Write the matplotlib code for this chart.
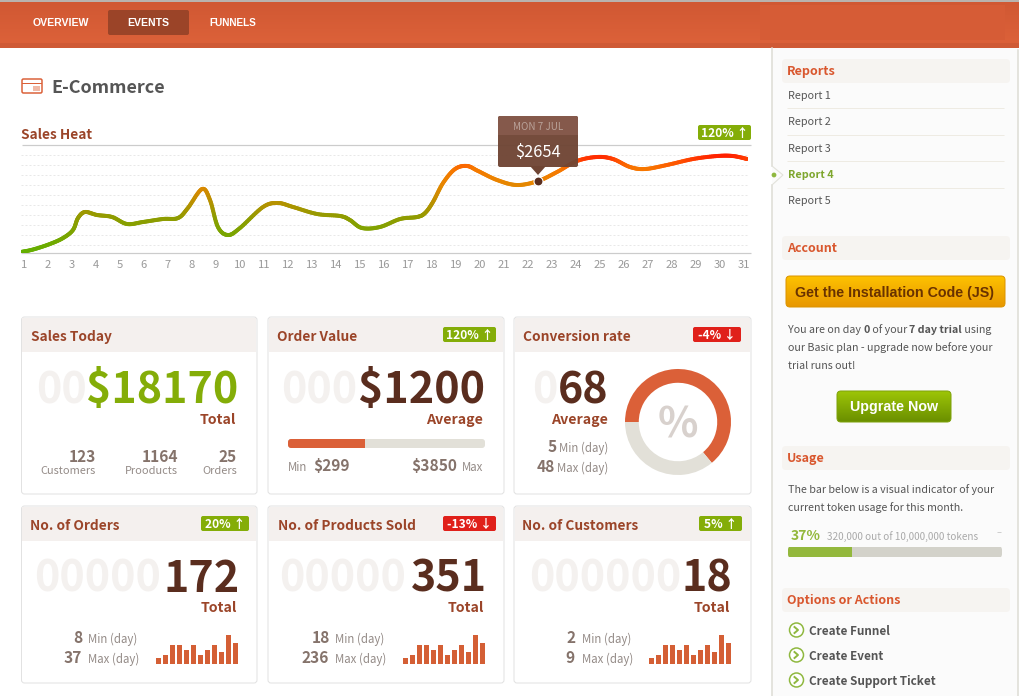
import numpy as np
import matplotlib as mpl
mpl.use('Agg')
import matplotlib.pyplot as plt
from matplotlib.collections import LineCollection
from matplotlib.colors import LinearSegmentedColormap, Normalize
from matplotlib.patches import FancyBboxPatch, Polygon, Circle, Rectangle

W, H = 1019, 696
SANS = ['Noto Sans CJK SC', 'DejaVu Sans']
ARIAL = ['Liberation Sans', 'DejaVu Sans']

# ----chart data-------------------------
heat_days = [0.88, 1.38, 2.08, 2.63, 3.04, 3.25, 3.54, 4.04, 4.67, 5.29, 5.96, 6.79, 7.42, 7.83, 8.42, 8.75,
             9.08, 9.5, 10, 10.96, 11.58, 12.21, 13.21, 14.17, 14.58, 15.08, 15.83, 16.67, 17.38, 17.71, 18.04,
             18.46, 18.96, 19.46, 19.92, 20.71, 21.54, 22.42, 23.21, 24.04, 24.88, 25.54, 26.25, 26.88, 27.79,
             28.88, 29.88, 30.54, 31.13]
heat_sales = [37, 129, 332, 553, 848, 1290, 1511, 1401, 1327, 1069, 1143, 1253, 1290, 1659, 2359, 1954,
              958, 663, 922, 1696, 1843, 1696, 1438, 1364, 1216, 922, 958, 1253, 1327, 1474, 1880,
              2580, 3096, 3207, 3023, 2691, 2506, 2654, 2986, 3391, 3539, 3465, 3170, 3096, 3244,
              3465, 3575, 3575, 3465]
day_ticks = list(range(1, 32))
tip_day, tip_value = 22.42, 2654

mini_bars = [6, 9, 19, 19, 14, 19, 9, 14, 19, 12, 29, 21]
order_bar = [39, 100]       # filled, track
usage_bar = [30, 100]
donut_parts = [64, 36]

report_names = ['Report 1', 'Report 2', 'Report 3', 'Report 4', 'Report 5']
action_names = ['Create Funnel', 'Create Event', 'Create Support Ticket']

# ----colours----------------------------
BROWN = '#9b4529'
DARK = '#5a2d1e'
GHOST = '#f4f1ef'
STAT = '#85736b'
LABEL = '#948b87'
GREEN = '#84ad08'
RED = '#e0201a'
ORANGE = '#db6038'
TRACK = '#e2e0d8'
TEXT = '#555555'

# ----text sizes in px-------------------
BIG = 43
TITLE = 13.7
UNIT = 14.2
STATNUM = 15.5
SMALL = 11.5
BODY = 10.7

fig = plt.figure(figsize=(W / 100, H / 100), dpi=100, facecolor='white')


def pixel_axes(zorder):
    ax = fig.add_axes([0, 0, 1, 1], zorder=zorder)
    ax.set_xlim(0, W)
    ax.set_ylim(H, 0)
    ax.axis('off')
    ax.patch.set_alpha(0)
    return ax


def sub_axes(x0, y0, x1, y1, zorder=1):
    ax = fig.add_axes([x0 / W, 1 - y1 / H, (x1 - x0) / W, (y1 - y0) / H], zorder=zorder)
    ax.patch.set_alpha(0)
    return ax


bg = pixel_axes(0)
fg = pixel_axes(3)


def txt(x, y, s, px, color, ha='left', weight='normal', family=SANS, ax=bg, **kw):
    return ax.text(x, y, s, fontsize=px * 0.72, color=color, ha=ha, va='baseline',
                   fontweight=weight, family=family, **kw)


def rounded(x0, y0, x1, y1, r, fc, ec='none', lw=0, ax=bg, zorder=2):
    p = FancyBboxPatch((x0 + r, y0 + r), x1 - x0 - 2 * r, y1 - y0 - 2 * r,
                       boxstyle='round,pad=%f,rounding_size=%f' % (r, r),
                       fc=fc, ec=ec, lw=lw * 0.72, zorder=zorder)
    ax.add_patch(p)
    return p


def rect(x0, y0, x1, y1, fc, ax=bg, zorder=1):
    ax.add_patch(Rectangle((x0, y0), x1 - x0, y1 - y0, fc=fc, ec='none', zorder=zorder))


def gradient(x0, y0, x1, y1, top, bottom, r=0, ec='none'):
    cm = LinearSegmentedColormap.from_list('g', [top, bottom])
    im = bg.imshow(np.linspace(0, 1, 64).reshape(-1, 1), cmap=cm, aspect='auto',
                   extent=(x0, x1, y1, y0), zorder=2)
    if r:
        p = rounded(x0, y0, x1, y1, r, 'none', ec, 1, zorder=3)
        im.set_clip_path(p)
    bg.set_xlim(0, W)
    bg.set_ylim(H, 0)


def runs(x, y, parts, px, color):
    # text with mixed weights, one piece after the other
    rd = fig.canvas.get_renderer()
    for s, weight in parts:
        t = txt(x, y, s, px, color, weight=weight)
        x = bg.transData.inverted().transform(t.get_window_extent(rd).get_points())[1][0]


def hline(y, x0, x1, color, lw=1, ls='-', zorder=2):
    bg.plot([x0, x1], [y, y], color=color, lw=lw * 0.72, ls=ls, zorder=zorder, solid_capstyle='butt')


def badge(x0, y0, x1, label, up):
    col = GREEN if up else RED
    rounded(x0, y0, x1, y0 + 15, 2, col, zorder=3)
    txt((x0 + x1) / 2, y0 + 12, label + (' ↑' if up else ' ↓'), 12, 'white', ha='center', weight='bold', zorder=4)


def card(x0, y0, x1, y1, title, title_x):
    rounded(x0, y0, x1, y1, 3, 'white', '#e2e2e2', 1)
    head = Rectangle((x0 + 1, y0 + 1), x1 - x0 - 2, 34, fc='#f4f0ee', ec='none', zorder=2)
    bg.add_patch(head)
    txt(title_x, y0 + 24, title, TITLE, BROWN, weight='bold', zorder=4)


# ----page frame-------------------------
gradient(0, 1, W, 43, '#d05833', '#dc6139')
rect(0, 43, W, 48, '#cf5a35', zorder=2)
rect(0, 0, W, 1.5, '#b9b3ae', zorder=3)
rect(760, 5, 1005, 40, '#d65c36', zorder=3)
rounded(108, 10, 189, 35, 2, '#9b4428', zorder=4)
txt(33, 26, 'OVERVIEW', 10.5, 'white', weight='bold', family=ARIAL, zorder=5)
txt(148, 26, 'EVENTS', 10.5, 'white', ha='center', weight='bold', family=ARIAL, zorder=5)
txt(209, 26, 'FUNNELS', 10, 'white', weight='bold', family=ARIAL, zorder=5)

rect(772, 48, 1018, H, '#fbfbfb', zorder=1)
bg.plot([772, 772], [48, 166], color='#dddcd4', lw=1.1, zorder=2)
bg.plot([772, 772], [185, H], color='#dddcd4', lw=1.1, zorder=2)
bg.plot([1018, 1018], [50, H], color='#dddcd4', lw=1.1, zorder=2)

# title
rounded(22, 79, 42, 93, 1.5, 'white', ORANGE, 1.5)
rect(22, 82.5, 42, 84, ORANGE, zorder=3)
rect(33, 86, 40, 90.5, '#f0b9a6', zorder=3)
txt(51, 93, 'E-Commerce', 18, TEXT, weight='bold')

# ----sales heat chart-------------------
txt(21, 139, 'Sales Heat', TITLE, BROWN, weight='bold')
hline(145, 22, 751, '#cccccc', 1.2)
for gy in range(155, 246, 10):
    hline(gy, 21, 749, '#e8e8e8', 1, ls=(0, (2, 2)))
hline(253, 21, 751, '#cccccc', 1.2)
badge(698, 125, 751, '120%', True)

ax = sub_axes(21, 145, 748, 253)
ax.set_xlim(0.875, 31.167)
ax.set_ylim(0, 3981)
for s in ax.spines.values():
    s.set_visible(False)
ax.set_yticks([])
ax.set_xticks(day_ticks)
ax.set_xticklabels(day_ticks, fontsize=11.2 * 0.72, color='#999999', family=SANS)
ax.tick_params(axis='x', length=0, pad=5)

# smooth the line through the read points, colour follows the value
pts = np.column_stack([heat_days, heat_sales]).astype(float)
pad = np.vstack([pts[0], pts, pts[-1]])
smooth = []
for i in range(len(pts) - 1):
    p0, p1, p2, p3 = pad[i], pad[i + 1], pad[i + 2], pad[i + 3]
    for t in np.linspace(0, 1, 12, endpoint=False):
        smooth.append(0.5 * (2 * p1 + (p2 - p0) * t + (2 * p0 - 5 * p1 + 4 * p2 - p3) * t ** 2
                             + (3 * p1 - p0 - 3 * p2 + p3) * t ** 3))
smooth.append(pts[-1])
smooth = np.array(smooth)
segs = np.stack([smooth[:-1], smooth[1:]], axis=1)
heat = LinearSegmentedColormap.from_list('heat', [(0, '#62b000'), (0.36, '#8f9c00'), (0.6, '#cc8c00'),
                                                  (0.72, '#e88600'), (0.86, '#f77800'), (0.94, '#ff5000'),
                                                  (1, '#ff2000')])
lc = LineCollection(segs, cmap=heat, norm=Normalize(0, 3600), linewidths=4 * 0.72, capstyle='round')
lc.set_array((smooth[:-1, 1] + smooth[1:, 1]) / 2)
ax.add_collection(lc)
ax.plot([tip_day], [tip_value], 'o', ms=9 * 0.72, mfc=DARK, mec='white', mew=0.8, zorder=5)

# tooltip over the line
fg.add_patch(Polygon([(530, 166), (546, 166), (538, 175)], fc='#6f4534', ec='none', zorder=1))
rounded(498, 116, 578, 167, 2, '#6f4534', ax=fg, zorder=1).set_alpha(0.96)
rounded(498, 116, 578, 135, 2, '#85594b', ax=fg, zorder=2)
rect(498, 130, 578, 135, '#85594b', ax=fg, zorder=2)
txt(538, 130, 'MON 7 JUL', 9.8, '#b9a299', ha='center', ax=fg, zorder=3)
txt(538, 157, '$%d' % tip_value, 16.4, 'white', ha='center', ax=fg, zorder=3)

# ----cards row 1------------------------
card(21.5, 317, 257, 494, 'Sales Today', 31)
txt(87, 403, '00', BIG, GHOST, ha='right', weight='bold', zorder=4)
txt(238, 403, '$18170', BIG, GREEN, ha='right', weight='bold', zorder=4)
txt(236, 424, 'Total', UNIT, BROWN, ha='right', weight='bold', zorder=4)
for rx, num, name in [(96, '123', 'Customers'), (178, '1164', 'Prooducts'), (237, '25', 'Orders')]:
    txt(rx, 462, num, STATNUM, STAT, ha='right', weight='bold', zorder=4)
    txt(rx, 474, name, 11, LABEL, ha='right', zorder=4)

card(268, 317, 504, 494, 'Order Value', 277)
badge(443, 327, 496, '120%', True)
txt(357, 403, '000', BIG, GHOST, ha='right', weight='bold', zorder=4)
txt(485, 403, '$1200', BIG, DARK, ha='right', weight='bold', zorder=4)
txt(483, 424, 'Average', UNIT, BROWN, ha='right', weight='bold', zorder=4)
bax = sub_axes(288, 439, 485, 448)
bax.set_xlim(0, 100)
bax.axis('off')
clip = rounded(288, 439, 485, 448, 3, 'none', zorder=1)
for v, c in zip(order_bar[::-1], [TRACK, ORANGE]):
    bar = bax.barh([0], [v], height=1, color=c)[0]
    bar.set_clip_path(clip)
txt(288, 471, 'Min', SMALL, LABEL, zorder=4)
txt(313, 471, '$299', STATNUM, STAT, weight='bold', zorder=4)
txt(457, 471, '$3850', STATNUM, STAT, ha='right', weight='bold', zorder=4)
txt(483, 471, 'Max', SMALL, LABEL, ha='right', zorder=4)

card(514, 317, 751, 494, 'Conversion rate', 523)
badge(693, 327, 741, '-4%', False)
txt(558, 403, '0', BIG, GHOST, ha='right', weight='bold', zorder=4)
txt(609, 403, '68', BIG, DARK, ha='right', weight='bold', zorder=4)
txt(608, 424, 'Average', UNIT, BROWN, ha='right', weight='bold', zorder=4)
txt(557, 452, '5', STATNUM, STAT, ha='right', weight='bold', zorder=4)
txt(608, 452, 'Min (day)', SMALL, LABEL, ha='right', zorder=4)
txt(555, 472, '48', STATNUM, STAT, ha='right', weight='bold', zorder=4)
txt(608, 472, 'Max (day)', SMALL, LABEL, ha='right', zorder=4)
dax = sub_axes(625, 369, 731, 475)
dax.pie(donut_parts, colors=[ORANGE, TRACK], startangle=180, counterclock=False, radius=1,
        wedgeprops=dict(width=0.26))
dax.set_xlim(-1, 1)
dax.set_ylim(-1, 1)
txt(678, 438, '%', 42, '#d8d1cd', ha='center', weight='bold', zorder=4, ax=fg)

# ----cards row 2------------------------
row2 = [(21.5, 257, 'No. of Orders', 30, (201, 249, '20%', True), '00000', 161, '172', 240, 237,
         ('8', 83, '37', 82, 88), 156),
        (268, 504, 'No. of Products Sold', 278, (443, 496, '-13%', False), '00000', 406, '351', 487, 484,
         ('18', 330, '236', 329, 335), 403),
        (514, 751, 'No. of Customers', 522, (699, 742, '5%', True), '000000', 681, '18', 732, 730,
         ('2', 576, '9', 575, 582), 649)]
for x0, x1, title, tx, bd, ghost, gx, num, nx, lx, st, mx in row2:
    card(x0, 506, x1, 683, title, tx)
    badge(bd[0], 516, bd[1], bd[2], bd[3])
    txt(gx, 592, ghost, BIG, GHOST, ha='right', weight='bold', zorder=4)
    txt(nx, 592, num, BIG, DARK, ha='right', weight='bold', zorder=4)
    txt(lx, 612, 'Total', UNIT, BROWN, ha='right', weight='bold', zorder=4)
    txt(st[1], 643, st[0], STATNUM, STAT, ha='right', weight='bold', zorder=4)
    txt(st[4], 643, 'Min (day)', SMALL, LABEL, zorder=4)
    txt(st[3], 663, st[2], STATNUM, STAT, ha='right', weight='bold', zorder=4)
    txt(st[4], 663, 'Max (day)', SMALL, LABEL, zorder=4)
    max_ax = sub_axes(mx, 635, mx + 82, 664)
    max_ax.bar(range(len(mini_bars)), mini_bars, width=0.72, color='#d45f35')
    max_ax.set_xlim(-0.36, len(mini_bars) - 0.64)
    max_ax.set_ylim(0, 29)
    max_ax.axis('off')

# ----sidebar----------------------------
for y0, name in [(59, 'Reports'), (236, 'Account'), (446, 'Usage'), (588, 'Options or Actions')]:
    rounded(782, y0, 1010, y0 + 24, 4, '#f6f4f1')
    txt(787, y0 + 16, name, 12.5, '#d9572e', weight='bold', zorder=4)

report_base = [99, 125, 152, 178, 204]
for i, name in enumerate(report_names):
    sel = i == 3
    txt(788, report_base[i], name, 10.8, '#7ea62e' if sel else TEXT, weight='bold' if sel else 'normal', zorder=4)
for dy in [108, 135, 161, 188]:
    hline(dy, 787, 1004, '#eeebe3')
bg.add_patch(Polygon([(772, 166), (783, 175), (772, 185)], closed=False, fc='#fbfbfb', ec='#e2e2da', lw=0.8, zorder=3))
bg.add_patch(Circle((774, 175), 2.4, fc='#8fb83f', ec='none', zorder=4))

gradient(786, 276, 1005, 307, '#fdc200', '#e89700', r=4, ec='#dc9400')
txt(895, 297, 'Get the Installation Code (JS)', 14.2, '#693200', ha='center', weight='bold', family=ARIAL, zorder=5)

runs(788, 333, [('You are on day ', 'normal'), ('0', 'bold'), (' of your ', 'normal'),
                ('7 day trial', 'bold'), (' using', 'normal')], BODY, TEXT)
txt(788, 351, 'our Basic plan - upgrade now before your', BODY, TEXT)
txt(788, 369, 'trial runs out!', BODY, TEXT)

gradient(837, 391, 951, 422, '#9dc507', '#6a8f00', r=4, ec='#7fa30a')
txt(894, 411, 'Upgrate Now', 14.2, 'white', ha='center', weight='bold', family=ARIAL, zorder=5)

txt(788, 493, 'The bar below is a visual indicator of your', BODY, TEXT)
txt(788, 511, 'current token usage for this month.', BODY, TEXT)
txt(791, 540, '37%', 14, '#93b83c', weight='bold')
txt(827, 540, '320,000 out of 10,000,000 tokens', 10, '#aaaaaa')
hline(532, 997, 1001, '#cfcfcf')
uax = sub_axes(788, 546, 1002, 558)
uax.set_xlim(0, 100)
uax.axis('off')
clip = rounded(788, 546, 1002, 558, 4, 'none', zorder=1)
for v, c in zip(usage_bar[::-1], ['#d3d2ca', '#93b83c']):
    bar = uax.barh([0], [v], height=1, color=c)[0]
    bar.set_clip_path(clip)

for name, cy in zip(action_names, [630, 655, 680]):
    bg.add_patch(Circle((796.5, cy), 7, fc='white', ec='#8fb83f', lw=1.1, zorder=3))
    bg.plot([794.5, 798, 794.5], [cy - 3, cy, cy + 3], color='#8fb83f', lw=1.4, zorder=4)
    txt(809, cy + 5, name, 11.7, TEXT, weight='bold', zorder=4)

fig.savefig('out.png', dpi=100, facecolor='white')
